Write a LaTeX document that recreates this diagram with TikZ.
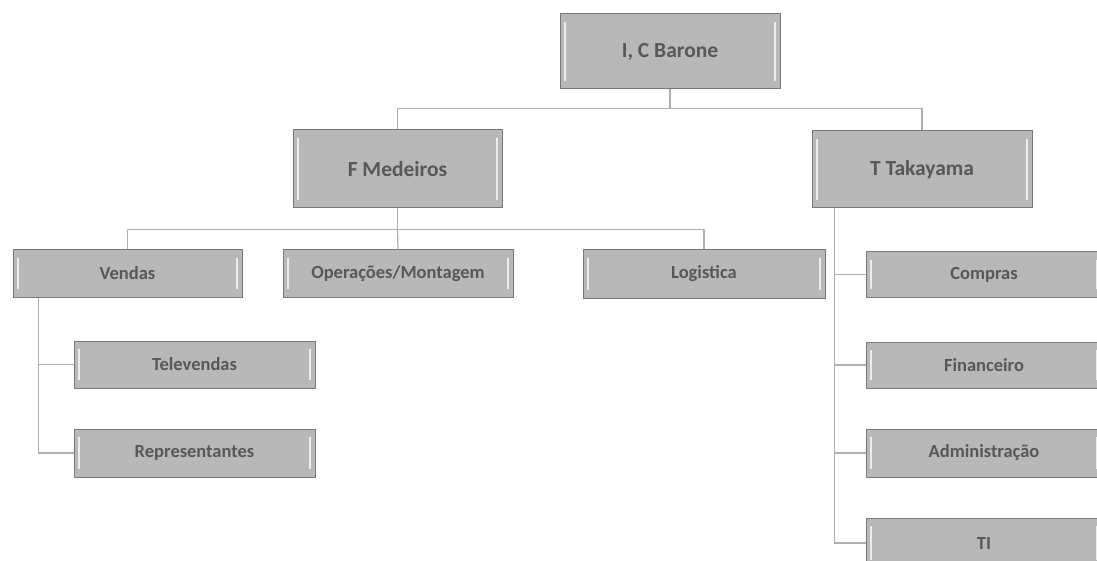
\documentclass[tikz,border=0pt]{standalone}
\usepackage{fontspec}
\setmainfont{Carlito}
\definecolor{boxfill}{RGB}{184,184,184}
\definecolor{boxedge}{RGB}{120,120,120}
\definecolor{boxtext}{RGB}{88,88,88}
\definecolor{linecol}{RGB}{175,175,175}
\begin{document}
\begin{tikzpicture}[x=1pt,y=-1pt,
  orgbox/.style={draw=boxedge, line width=1pt, fill=boxfill, inner sep=0pt,
    text=boxtext, font=\bfseries\fontsize{18.5}{20}\selectfont, align=center,
    path picture={
      \draw[white, line width=1.4pt, opacity=0.75]
        ([xshift=5pt,yshift=-8pt]path picture bounding box.north west) --
        ([xshift=5pt,yshift=8pt]path picture bounding box.south west);
      \draw[white, line width=1.4pt, opacity=0.75]
        ([xshift=-5pt,yshift=-8pt]path picture bounding box.north east) --
        ([xshift=-5pt,yshift=8pt]path picture bounding box.south east);
    }},
  topbox/.style={orgbox, font=\bfseries\fontsize{21.5}{23}\selectfont},
  conn/.style={draw=linecol, line width=1.2pt}]
\useasboundingbox (0,0) rectangle (1097,561);
\clip (0,0) rectangle (1097,561);

% level 0
\node[topbox, minimum width=220pt, minimum height=75pt] (icb) at (670,51.5) {I, C Barone};
% level 1
\node[topbox, minimum width=209pt, minimum height=78pt] (fm) at (397.5,169) {F Medeiros};
\node[topbox, minimum width=220pt, minimum height=77pt] (tt) at (922,169.5) {T Takayama};
% level 2 under F Medeiros
\node[orgbox, minimum width=229pt, minimum height=47pt] (ven) at (127.5,273.5) {Vendas};
\node[orgbox, minimum width=230pt, minimum height=47pt] (ope) at (398,273.5) {Operações/Montagem};
\node[orgbox, minimum width=242pt, minimum height=48pt] (log) at (704,274) {Logistica};
% level 3 under Vendas
\node[orgbox, minimum width=241pt, minimum height=47pt] (tel) at (194.5,364.5) {Televendas};
\node[orgbox, minimum width=241pt, minimum height=48pt] (rep) at (194.5,453) {Representantes};
% level 2 under T Takayama
\node[orgbox, minimum width=236pt, minimum height=45pt] (com) at (984,274.5) {Compras};
\node[orgbox, minimum width=236pt, minimum height=46pt] (fin) at (984,365) {Financeiro};
\node[orgbox, minimum width=236pt, minimum height=48pt] (adm) at (984,453) {Administração};
\node[orgbox, minimum width=236pt, minimum height=50pt] (ti) at (984,543) {TI};

% connectors
\draw[conn] (icb.south) -- ++(0,19) coordinate (j1);
\draw[conn] (fm.north) |- (j1) -| (tt.north);
\draw[conn] (fm.south) -- ++(0,21) coordinate (j2);
\draw[conn] (ven.north) |- (j2) -| (log.north);
\draw[conn] (j2) -- (ope.north);

\draw[conn] (ven.south west) ++(26,0) coordinate (v0);
\draw[conn] (v0) |- (tel.west);
\draw[conn] (v0) |- (rep.west);

\draw[conn] (tt.south west) ++(23,0) coordinate (t0);
\draw[conn] (t0) |- (com.west);
\draw[conn] (t0) |- (fin.west);
\draw[conn] (t0) |- (adm.west);
\draw[conn] (t0) |- (ti.west);
\end{tikzpicture}
\end{document}
